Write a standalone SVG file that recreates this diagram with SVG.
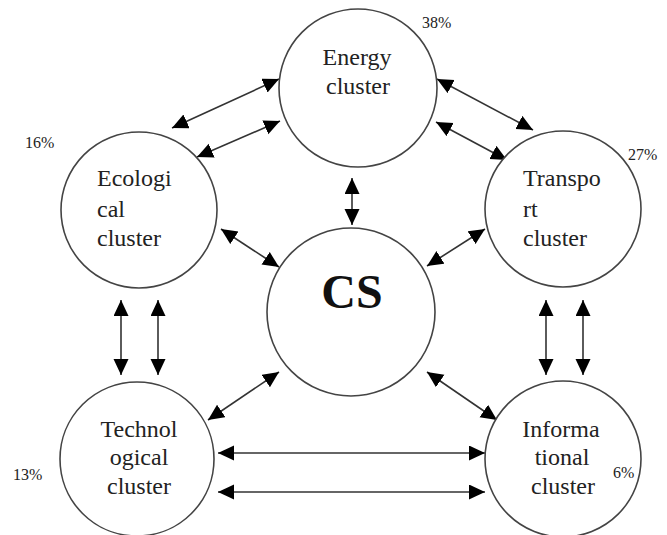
<svg xmlns="http://www.w3.org/2000/svg" width="667" height="535" viewBox="0 0 667 535">
<style>
.n{fill:#fff;stroke:#444;stroke-width:1.6}
.t{font-family:"Liberation Serif","Times New Roman",serif;font-size:24px;fill:#222}
.c{text-anchor:middle}
.p{font-family:"Liberation Serif","Times New Roman",serif;font-size:16px;fill:#222}
.cs{font-family:"Liberation Serif","Times New Roman",serif;font-size:48px;font-weight:bold;fill:#111;text-anchor:middle}
.a{stroke:#333;stroke-width:1.6;fill:none;marker-start:url(#ah);marker-end:url(#ah)}
</style>
<defs>
<marker id="ah" markerUnits="userSpaceOnUse" markerWidth="17" markerHeight="16" refX="16" refY="7.5" orient="auto-start-reverse">
<path d="M0,0 L16,7.5 L0,15 z" fill="#000"/>
</marker>
</defs>
<rect width="667" height="535" fill="#fff"/>
<g id="connectors">
<line class="a" x1="172" y1="128" x2="279" y2="79"/>
<line class="a" x1="197" y1="157" x2="280" y2="121"/>
<line class="a" x1="437" y1="79" x2="533" y2="130"/>
<line class="a" x1="436" y1="122" x2="507" y2="160"/>
<line class="a" x1="352" y1="178" x2="352" y2="225"/>
<line class="a" x1="221" y1="229" x2="279" y2="267"/>
<line class="a" x1="485" y1="229" x2="427" y2="266"/>
<line class="a" x1="121" y1="300" x2="121" y2="375"/>
<line class="a" x1="158" y1="300" x2="158" y2="375"/>
<line class="a" x1="546" y1="300" x2="546" y2="375"/>
<line class="a" x1="583" y1="300" x2="583" y2="375"/>
<line class="a" x1="279" y1="372" x2="208" y2="420"/>
<line class="a" x1="427" y1="372" x2="497" y2="420"/>
<line class="a" x1="218" y1="453" x2="485" y2="453"/>
<line class="a" x1="218" y1="492" x2="485" y2="492"/>
</g>
<g id="energy">
<circle class="n" cx="358" cy="88" r="79"/>
<text class="t c" x="357" y="65">Energy</text>
<text class="t c" x="358" y="94">cluster</text>
<text class="p" x="422" y="28">38%</text>
</g>
<g id="ecological">
<circle class="n" cx="139" cy="210" r="78"/>
<text class="t" x="97" y="186">Ecologi</text>
<text class="t" x="97" y="217">cal</text>
<text class="t" x="97" y="246">cluster</text>
<text class="p" x="25" y="148">16%</text>
</g>
<g id="transport">
<circle class="n" cx="563" cy="209" r="78"/>
<text class="t" x="523" y="186">Transpo</text>
<text class="t" x="523" y="217">rt</text>
<text class="t" x="523" y="246">cluster</text>
<text class="p" x="628" y="160">27%</text>
</g>
<g id="cs">
<circle class="n" cx="351" cy="312" r="84"/>
<text class="cs" x="352" y="308">CS</text>
</g>
<g id="technological">
<circle class="n" cx="137" cy="459" r="77"/>
<text class="t c" x="139" y="437">Technol</text>
<text class="t c" x="139" y="465">ogical</text>
<text class="t c" x="139" y="494">cluster</text>
<text class="p" x="13" y="480">13%</text>
</g>
<g id="informational">
<circle class="n" cx="563" cy="459" r="78"/>
<text class="t c" x="561" y="437">Informa</text>
<text class="t c" x="562" y="465">tional</text>
<text class="t c" x="563" y="494">cluster</text>
<text class="p" x="613" y="478">6%</text>
</g>
</svg>
